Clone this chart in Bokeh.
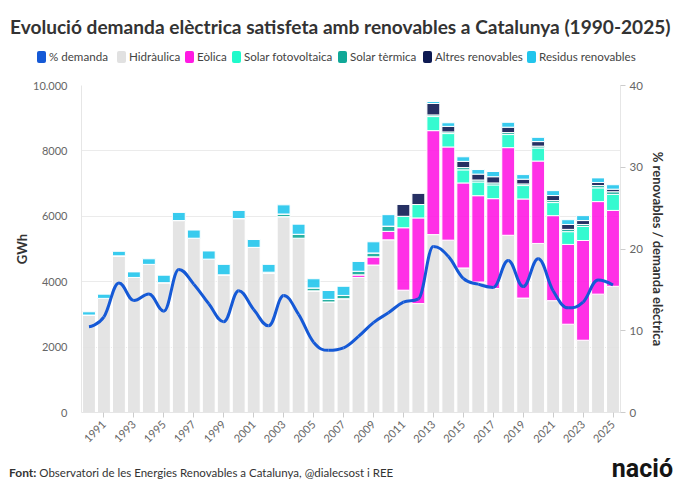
from bokeh.plotting import figure
from bokeh.layouts import column
from bokeh.models import Range1d, LinearAxis, FixedTicker, ColumnDataSource, Div
from bokeh.embed import file_html
from bokeh.resources import INLINE

# ---------------- data ----------------
years = list(range(1990, 2026))
hidraulica = [2980, 3490, 4790, 4130, 4530, 3970, 5870, 5330, 4690, 4210,
              5930, 5050, 4250, 5990, 5330, 3720, 3380, 3480, 4130, 4510,
              5280, 3740, 3330, 5440, 5270, 4420, 3990, 3790, 5420, 3500,
              5170, 3420, 2700, 2210, 3620, 3860]
eolica = [0, 0, 0, 0, 0, 0, 0, 0, 0, 0,
          0, 0, 0, 0, 0, 0, 0, 0, 80, 250,
          260, 1910, 2620, 3180, 2850, 2600, 2640, 2750, 2680, 3030,
          2520, 2600, 2440, 3050, 2830, 2320]
solar_fv = [0, 0, 0, 0, 0, 0, 0, 0, 0, 0,
            0, 0, 0, 0, 0, 0, 0, 0, 0, 0,
            0, 350, 410, 430, 410, 400, 420, 420, 400, 410,
            400, 400, 390, 430, 420, 490]
solar_termica = [0, 0, 0, 0, 0, 0, 0, 0, 0, 0,
                 0, 0, 40, 80, 120, 90, 80, 100, 110, 120,
                 160, 0, 0, 50, 50, 70, 60, 60, 60, 50,
                 55, 60, 70, 60, 70, 80]
altres = [0, 0, 0, 0, 0, 0, 0, 0, 0, 0,
          0, 0, 0, 0, 0, 0, 0, 0, 0, 0,
          0, 370, 350, 350, 170, 190, 180, 190, 165, 145,
          140, 155, 150, 120, 95, 80]
residus = [100, 130, 140, 170, 170, 230, 250, 250, 250, 320,
           250, 240, 240, 280, 310, 280, 270, 280, 300, 340,
           350, 0, 0, 60, 110, 140, 140, 160, 150, 140,
           130, 150, 145, 150, 140, 135]
pct_demanda = [10.5, 11.7, 15.85, 13.7, 14.5, 12.4, 17.5, 15.7, 13.3, 11.1,
               14.9, 12.6, 10.6, 14.3, 12.0, 8.6, 7.6, 7.9, 9.3, 11.0,
               12.2, 13.5, 13.9, 20.3, 19.1, 16.4, 15.7, 15.3, 18.6, 15.4,
               18.8, 14.9, 12.8, 13.5, 16.2, 15.6]

series_names = ["Hidràulica", "Eòlica", "Solar fotovoltaica", "Solar tèrmica",
                "Altres renovables", "Residus renovables"]
line_name = "% demanda"
left_ticks = [0, 2000, 4000, 6000, 8000, 10000]
right_ticks = [0, 10, 20, 30, 40]

title_text = "Evolució demanda elèctrica satisfeta amb renovables a Catalunya (1990-2025)"
source_bold = "Font:"
source_text = "Observatori de les Energies Renovables a Catalunya, @dialecsost i REE"
logo_text = "nació"

# ---------------- style ----------------
colors = ["#E1E1E1", "#FF1AE3", "#1FFACB", "#10A898", "#0E1A52", "#22C5EC"]
line_color = "#1559D6"
FONT = "Lato"
W = 680
HH, PH, FH = 70, 382, 40
FL, FR, FT, FB = 81, 60, 15, 40
legend_x = [37, 117, 185, 232, 338, 423, 527]   # left edge of each legend entry

src = ColumnDataSource(dict(year=years, h=hidraulica, e=eolica, sfv=solar_fv,
                            st=solar_termica, a=altres, r=residus, pct=pct_demanda))
keys = ["h", "e", "sfv", "st", "a", "r"]

p = figure(width=W, height=PH, output_backend="svg", toolbar_location=None,
           x_range=Range1d(years[0] - 0.5, years[-1] + 0.5),
           y_range=Range1d(left_ticks[0], left_ticks[-1]),
           min_border_left=FL, min_border_right=FR,
           min_border_top=FT, min_border_bottom=FB)
p.outline_line_color = None
p.background_fill_color = "white"
p.border_fill_color = "white"
p.extra_y_ranges = {"pct": Range1d(right_ticks[0], right_ticks[-1])}

p.vbar_stack(keys, x="year", width=0.86, source=src,
             fill_color=colors, fill_alpha=0.9,
             line_color="white", line_width=1)


def spline(xs, ys, sm=1.5):
    n = len(xs)
    lc = [(xs[i], ys[i]) for i in range(n)]
    rc = [(xs[i], ys[i]) for i in range(n)]
    d = sm + 1
    for i in range(1, n - 1):
        lx = (sm * xs[i] + xs[i - 1]) / d
        ly = (sm * ys[i] + ys[i - 1]) / d
        rx = (sm * xs[i] + xs[i + 1]) / d
        ry = (sm * ys[i] + ys[i + 1]) / d
        corr = ((ry - ly) * (rx - xs[i])) / (rx - lx) + ys[i] - ry
        ly += corr
        ry += corr
        if ly > max(ys[i - 1], ys[i]):
            ly = max(ys[i - 1], ys[i]); ry = 2 * ys[i] - ly
        elif ly < min(ys[i - 1], ys[i]):
            ly = min(ys[i - 1], ys[i]); ry = 2 * ys[i] - ly
        if ry > max(ys[i], ys[i + 1]):
            ry = max(ys[i], ys[i + 1]); ly = 2 * ys[i] - ry
        elif ry < min(ys[i], ys[i + 1]):
            ry = min(ys[i], ys[i + 1]); ly = 2 * ys[i] - ry
        lc[i] = (lx, ly)
        rc[i] = (rx, ry)
    seg = dict(x0=[], y0=[], x1=[], y1=[], cx0=[], cy0=[], cx1=[], cy1=[])
    for i in range(n - 1):
        seg["x0"].append(xs[i]); seg["y0"].append(ys[i])
        seg["x1"].append(xs[i + 1]); seg["y1"].append(ys[i + 1])
        seg["cx0"].append(rc[i][0]); seg["cy0"].append(rc[i][1])
        seg["cx1"].append(lc[i + 1][0]); seg["cy1"].append(lc[i + 1][1])
    return seg


seg_src = ColumnDataSource(spline(years, pct_demanda))
p.bezier(x0="x0", y0="y0", x1="x1", y1="y1", cx0="cx0", cy0="cy0",
         cx1="cx1", cy1="cy1", source=seg_src, line_color=line_color,
         line_width=3, y_range_name="pct")

# ---------------- axes ----------------
ax = p.xaxis[0]
ax.ticker = FixedTicker(ticks=years[1::2])
ax.major_label_orientation = 0.785
ax.major_label_text_font = FONT
ax.major_label_text_font_size = "11px"
ax.major_label_text_color = "#666666"
ax.axis_line_color = "#E6E6E6"
ax.major_tick_line_color = "#CCCCCC"
ax.major_tick_out = 5
ax.major_tick_in = 0
ax.minor_tick_line_color = None

ly = p.yaxis[0]
ly.ticker = FixedTicker(ticks=left_ticks)
ly.major_label_overrides = {10000: "10.000"}
ly.axis_label = "GWh"
ly.axis_label_text_font = FONT
ly.axis_label_text_font_style = "bold"
ly.axis_label_text_font_size = "13px"
ly.axis_label_text_color = "#333333"
ly.axis_label_standoff = 0
ly.major_label_text_font = FONT
ly.major_label_text_font_size = "11px"
ly.major_label_text_color = "#666666"
ly.axis_line_color = "#E6E6E6"
ly.major_tick_line_color = None
ly.minor_tick_line_color = None
ly.major_label_standoff = 8

ry = LinearAxis(y_range_name="pct", ticker=FixedTicker(ticks=right_ticks))
ry.axis_label = "% renovables / demanda elèctrica"
ry.axis_label_text_font = FONT
ry.axis_label_text_font_style = "bold"
ry.axis_label_text_font_size = "13px"
ry.axis_label_text_color = "#333333"
ry.axis_label_standoff = 4
ry.major_label_text_font = FONT
ry.major_label_text_font_size = "11.5px"
ry.major_label_text_color = "#666666"
ry.axis_line_color = "#E6E6E6"
ry.major_tick_line_color = "#CCCCCC"
ry.major_tick_out = 5
ry.major_tick_in = 0
ry.minor_tick_line_color = None
ry.major_label_standoff = 4
p.add_layout(ry, "right")

p.xgrid.grid_line_color = None
p.ygrid.grid_line_color = "#EBEBEB"
p.ygrid.ticker = FixedTicker(ticks=left_ticks)

# ---------------- header: title + legend ----------------
entries = [(line_name, line_color)] + list(zip(series_names, colors))
legend_html = "".join(
    '<span style="position:absolute;left:%dpx;top:49px;white-space:nowrap;'
    'font-size:11.6px;line-height:16px;color:#444444;">'
    '<span style="display:inline-block;width:9px;height:12px;border-radius:2px;'
    'background:%s;vertical-align:-2px;margin-right:3px;"></span>%s</span>'
    % (x, c, name) for x, (name, c) in zip(legend_x, entries))
header_html = (
    '<div style="position:relative;width:%dpx;height:%dpx;font-family:Lato,sans-serif;">'
    '<span style="position:absolute;left:10px;top:15px;'
    'font-size:19.1px;line-height:24px;font-weight:bold;color:#333333;'
    'white-space:nowrap;">%s</span>%s</div>'
    % (W, HH, title_text, legend_html))
head = Div(text=header_html, width=W, height=HH, margin=0)

# ---------------- footer ----------------
footer_html = (
    '<div style="position:relative;width:%dpx;height:%dpx;font-family:Lato,sans-serif;">'
    '<span style="position:absolute;left:9px;top:14px;font-size:11.5px;line-height:14px;'
    'color:#333333;white-space:nowrap;"><b style="font-size:12px;">%s</b> %s</span>'
    '<span style="position:absolute;right:7px;top:3px;font-family:Roboto,sans-serif;'
    'font-weight:bold;font-size:25px;line-height:28px;color:#151515;">%s</span>'
    '</div>' % (W, FH, source_bold, source_text, logo_text))
foot = Div(text=footer_html, width=W, height=FH, margin=0)

layout = column(head, p, foot, spacing=0)
open("out.html", "w").write(file_html(layout, INLINE))
